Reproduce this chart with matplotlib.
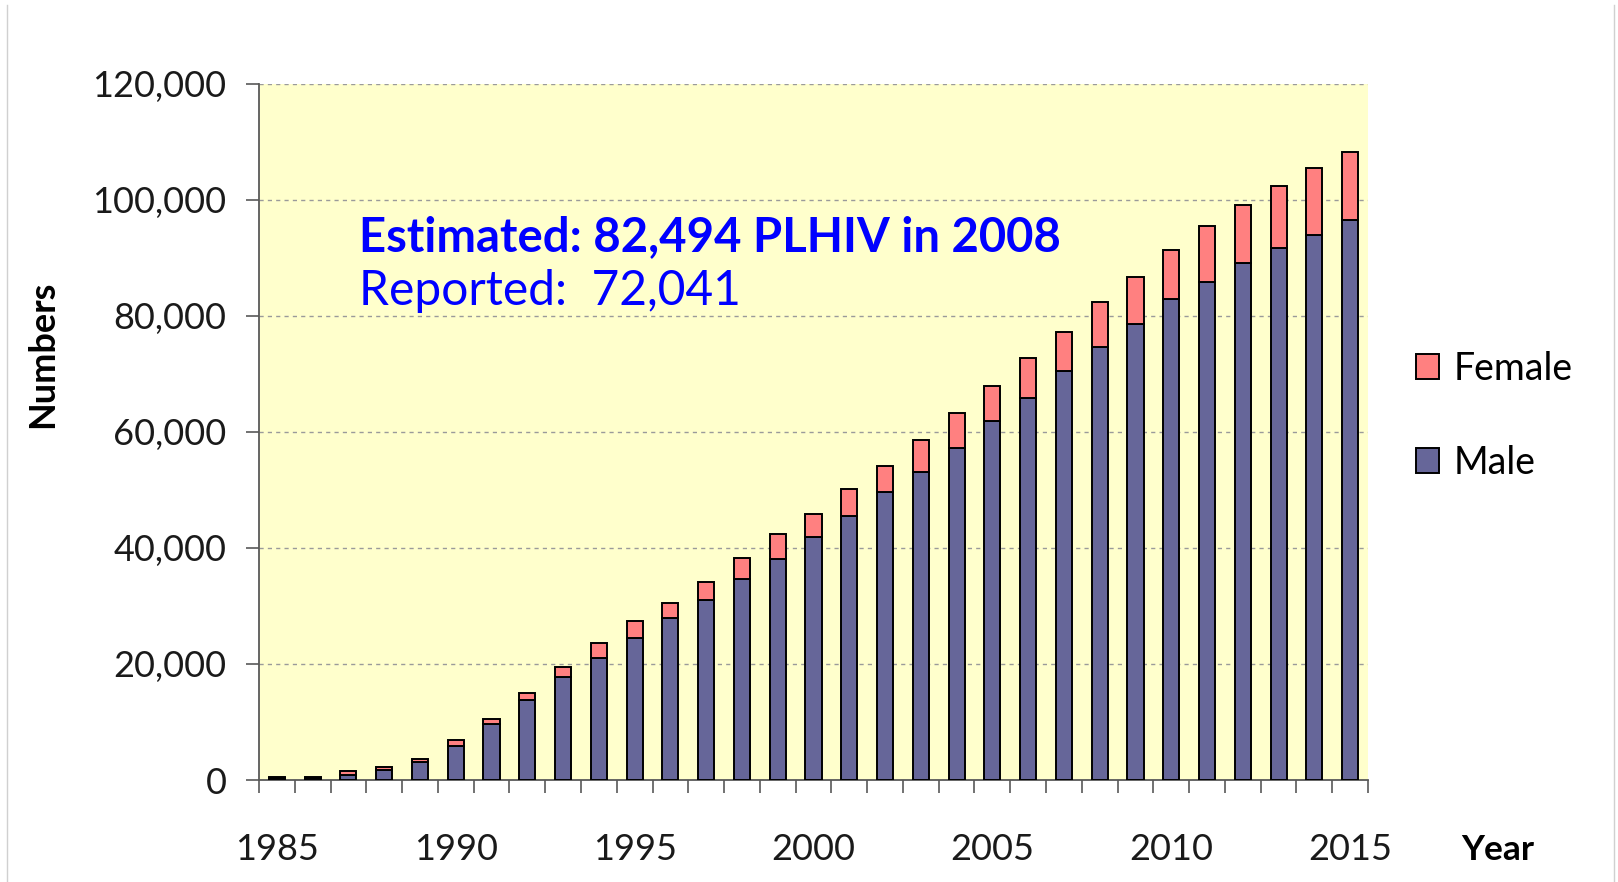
import numpy as np
import matplotlib
matplotlib.use("Agg")
import matplotlib.pyplot as plt
from matplotlib.lines import Line2D
from matplotlib.ticker import FuncFormatter, MultipleLocator

plt.rcParams["font.family"] = ["Lato", "DejaVu Sans"]

# ------------------------------------------------------------------
# Data
# ------------------------------------------------------------------
years = list(range(1985, 2016))
male = [300, 300, 900, 1800, 3100, 5800, 9600, 13800, 17700, 21000,
        24500, 27900, 31000, 34600, 38100, 41900, 45500, 49600, 53100, 57300,
        61900, 65800, 70500, 74600, 78700, 82900, 85900, 89200, 91800, 94000,
        96500]
female = [200, 200, 600, 500, 500, 1100, 900, 1200, 1800, 2600,
          2900, 2600, 3200, 3600, 4300, 4000, 4700, 4600, 5600, 6000,
          6000, 7000, 6800, 7800, 8100, 8500, 9600, 9900, 10600, 11500,
          11800]
year_labels = [1985, 1990, 1995, 2000, 2005, 2010, 2015]
estimate_text = "Estimated: 82,494 PLHIV in 2008"
reported_text = "Reported:  72,041"

MALE_COLOR = "#666699"
FEMALE_COLOR = "#FF8080"
BG_COLOR = "#FFFFCC"
TEXT_BLUE = "#0000FF"

W, H = 1618, 882
fig = plt.figure(figsize=(W / 100, H / 100), dpi=100)
ax = fig.add_axes([259 / W, 1 - 780 / H, (1368 - 259) / W, (780 - 84) / H])
ax.set_facecolor(BG_COLOR)

x = np.arange(len(years))
b_male = ax.bar(x, male, width=0.45, color=MALE_COLOR, edgecolor="black",
                linewidth=1.4, zorder=3, label="Male")
b_female = ax.bar(x, female, width=0.45, bottom=male, color=FEMALE_COLOR,
                  edgecolor="black", linewidth=1.4, zorder=3, label="Female")

ax.set_xlim(-0.5, len(years) - 0.5)
ax.set_ylim(0, 120000)

# y axis
ax.yaxis.set_major_locator(MultipleLocator(20000))
ax.yaxis.set_major_formatter(FuncFormatter(lambda v, p: f"{int(v):,}"))
ax.tick_params(axis="y", length=9.4, width=1.2, color="#595959", pad=14,
               labelsize=26, labelcolor="#1a1a1a")
ax.grid(axis="y", linestyle=(0, (3, 3)), color="#9a9a9a", linewidth=1.0, zorder=1)

# x axis: labels at every 5th year, tick marks between categories
ax.set_xticks([years.index(y) for y in year_labels])
ax.set_xticklabels([str(y) for y in year_labels])
ax.set_xticks(np.arange(-0.5, len(years), 1.0), minor=True)
ax.tick_params(axis="x", which="major", length=0, pad=38, labelsize=26,
               labelcolor="#1a1a1a")
ax.tick_params(axis="x", which="minor", length=9.4, width=1.2, color="#595959")

for side in ("top", "right"):
    ax.spines[side].set_visible(False)
for side in ("left", "bottom"):
    ax.spines[side].set_color("#595959")
    ax.spines[side].set_linewidth(1.3)

# annotation text
ax.text(359 / W, 1 - 237 / H, estimate_text, transform=fig.transFigure,
        fontsize=34, fontweight="bold", color=TEXT_BLUE, ha="left", va="center")
ax.text(359 / W, 1 - 291 / H, reported_text, transform=fig.transFigure,
        fontsize=34.5, color=TEXT_BLUE, ha="left", va="center")

# axis titles
fig.text(43 / W, 1 - 354 / H, "Numbers", rotation=90, fontsize=26,
         fontweight="bold", ha="center", va="center")
fig.text(1498 / W, 1 - 850 / H, "Year", fontsize=25.5, fontweight="bold",
         ha="center", va="center")

# legend
fig.legend([b_female, b_male], ["Female", "Male"], loc="center left",
           bbox_to_anchor=(1416 / W, 1 - 416 / H), frameon=False, fontsize=27,
           handlelength=0.6, handleheight=0.65, handletextpad=0.4,
           labelspacing=1.55, borderpad=0, borderaxespad=0)

# faint slide frame lines
fig.add_artist(Line2D([7 / W, 7 / W], [0, 1 - 5 / H], transform=fig.transFigure,
                      color="#d0d0d0", linewidth=1))
fig.add_artist(Line2D([1614 / W, 1614 / W], [0, 1 - 5 / H], transform=fig.transFigure,
                      color="#d0d0d0", linewidth=1))

fig.savefig("out.png", dpi=100, facecolor="white")
